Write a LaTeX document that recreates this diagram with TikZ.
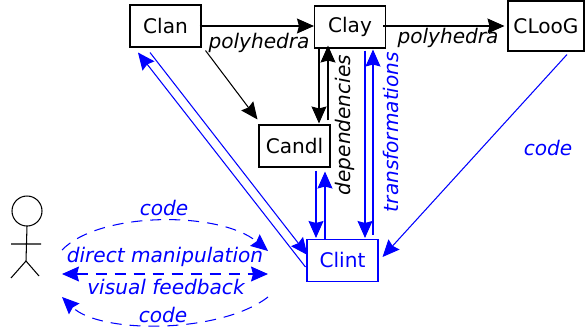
\documentclass[tikz,border=0pt]{standalone}
\usepackage{fontspec}
\setmainfont{DejaVu Sans}
\usetikzlibrary{arrows.meta}
\tikzset{
  tool/.style={draw,line width=1.05pt,minimum width=71pt,minimum height=42pt,inner sep=0pt},
  tip/.tip={Stealth[length=17pt,width=15pt,inset=2pt]},
  flow/.style={line width=1.05pt,-tip},
  back/.style={flow,blue},
  talk/.style={flow,blue,dash pattern=on 11pt off 8pt},
  word/.style={font=\fontsize{20.1}{22}\selectfont\itshape}
}
\begin{document}
\begin{tikzpicture}[x=1pt,y=-1pt,font=\fontsize{20.1}{22}\selectfont]
    \useasboundingbox (0,0) rectangle (585,332);
    \node[tool] (Clan) at (165.5,26) {Clan};
    \node[tool] (Clay) at (350,27) {Clay};
    \node[tool,minimum width=76pt,minimum height=50pt] (CLooG) at (546,26) {CLooG};
    \node[tool] (Candl) at (294.5,146) {Candl};
    \node[tool,blue] (Clint) at (342.5,260.5) {Clint};
    \draw[flow] ([xshift=-2pt]Clan.east) -- ([yshift=1pt]Clay.west);
    \draw[flow] ([xshift=-3pt,yshift=1pt]Clay.east) -- ([xshift=-3pt]CLooG.west);
    \draw[flow] ([xshift=4pt,yshift=-3pt]Clan.south east) -- ([xshift=-1pt,yshift=5pt]Candl.north west);
    \draw[flow] ([xshift=-31pt]Clay.south) -- ([xshift=24.5pt,yshift=1pt]Candl.north);
    \draw[flow] ([xshift=33.5pt,yshift=4pt]Candl.north) -- ([xshift=-22pt,yshift=3pt]Clay.south);
    \draw[back] ([xshift=21.5pt,yshift=-3pt]Candl.south) -- ([xshift=-26.5pt,yshift=1pt]Clint.north);
    \draw[back] ([xshift=-17.5pt]Clint.north) -- ([xshift=30.5pt,yshift=-4pt]Candl.south);
    \draw[back] ([xshift=15pt,yshift=-2pt]Clay.south) -- ([xshift=22.5pt,yshift=1pt]Clint.north);
    \draw[back] ([xshift=30.5pt,yshift=4pt]Clint.north) -- ([xshift=23pt,yshift=-1pt]Clay.south);
    \draw[back] ([xshift=-15.5pt,yshift=-5pt]Clan.south) -- ([xshift=1pt,yshift=5.5pt]Clint.west);
    \draw[back] ([xshift=-1pt,yshift=-6.5pt]Clint.west) -- ([xshift=-27.5pt,yshift=-5pt]Clan.south);
    \draw[back] ([xshift=21pt,yshift=-3pt]CLooG.south) -- ([xshift=4pt,yshift=3.5pt]Clint.east);
    \node[word] (PolyA) at (259,43) {polyhedra};
    \node[word] (PolyB) at (448,38) {polyhedra};
    \node[word,rotate=90] (Deps) at (345,125) {dependencies};
    \node[word,rotate=90,blue] (Trans) at (391,132) {transformations};
    \node[word,blue] (CodeA) at (548,148) {code};
    \node[word,blue] (CodeB) at (164,208) {code};
    \node[word,blue] (Direct) at (165,257) {direct manipulation};
    \node[word,blue] (Visual) at (166,287) {visual feedback};
    \node[word,blue] (CodeC) at (163,315) {code};
    \coordinate (UserA) at (62,250);
    \coordinate (UserB) at (268,251);
    \coordinate (UserC) at (268,297);
    \coordinate (UserD) at (62,297);
    \coordinate (UserE) at (62,274);
    \coordinate (UserF) at (268,274);
    \draw[talk] (UserA) .. controls (100,211) and (220,211) .. (UserB);
    \draw[talk,tip-tip] (UserE) -- (UserF);
    \draw[talk] (UserC) .. controls (220,334) and (100,334) .. (UserD);
    \draw[line width=1.05pt] (27,211) circle (15);
    \draw[line width=1.05pt] (27,226) -- (26,261) (11,244) -- (41,244) (11,278) -- (26,261) -- (39,276);
  \end{tikzpicture}
\end{document}
